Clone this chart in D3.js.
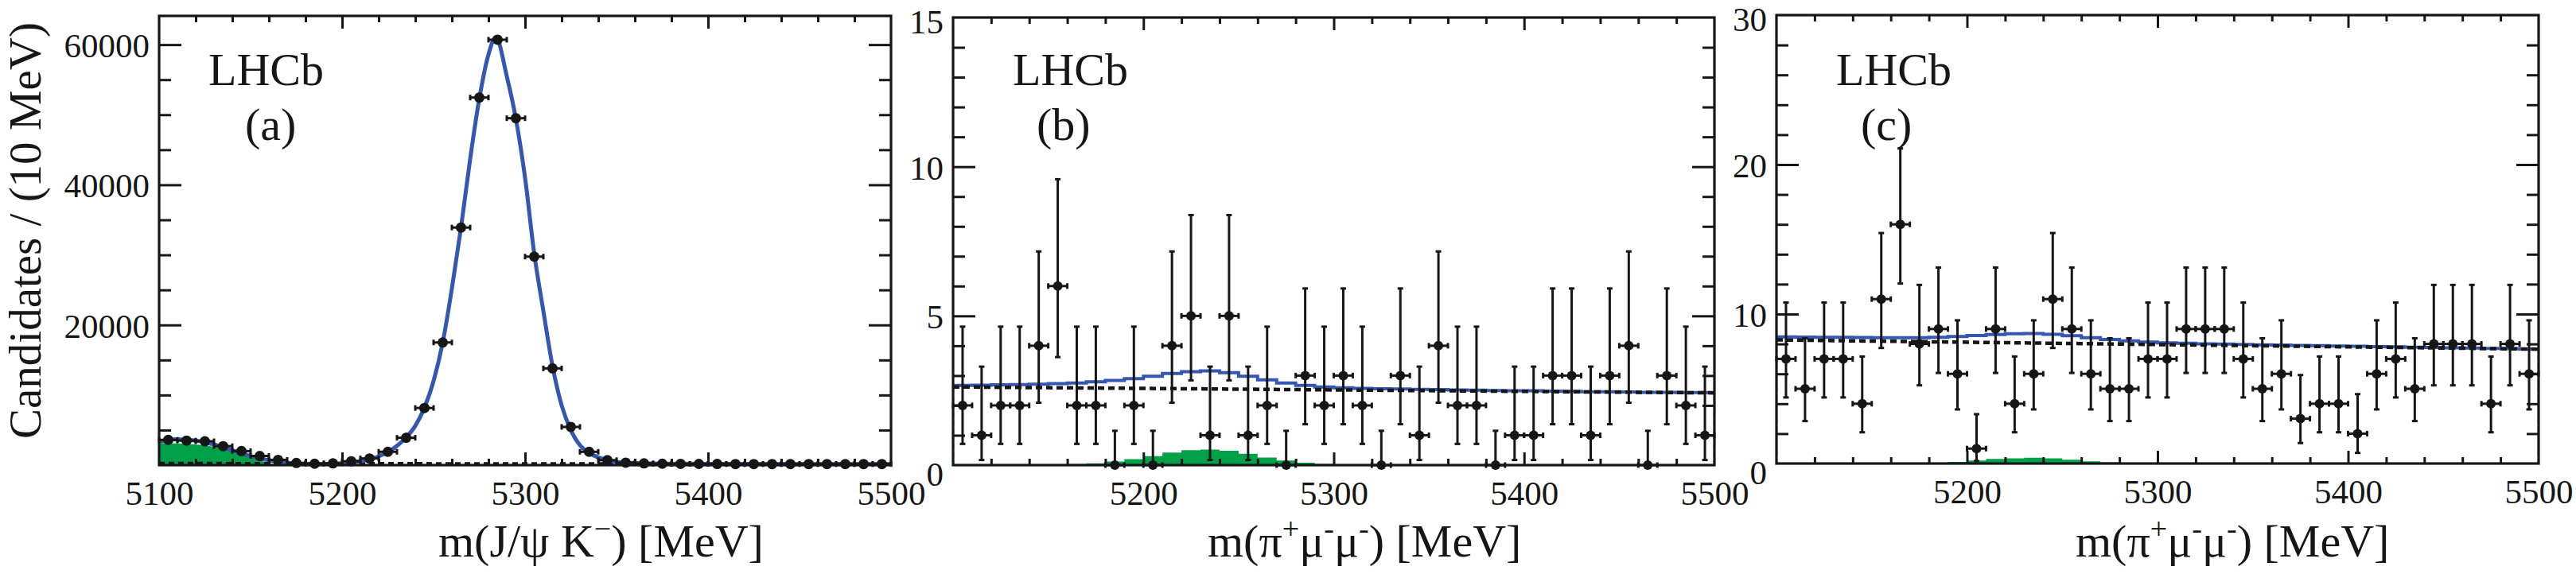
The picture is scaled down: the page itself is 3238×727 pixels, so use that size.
<!DOCTYPE html>
<html>
<head>
<meta charset="utf-8">
<script src="https://cdn.jsdelivr.net/npm/d3@7"></script>
<style>
  html, body { margin: 0; padding: 0; background: #fff; }
  svg { display: block; }
  text { font-family: "Liberation Serif", "Times New Roman", serif; }
</style>
</head>
<body>
<svg id="chart" width="3238" height="727"></svg>
<script>
// bin centres (10 MeV bins between 5100 and 5500)
const binCenters = [5105, 5115, 5125, 5135, 5145, 5155, 5165, 5175, 5185, 5195,
                    5205, 5215, 5225, 5235, 5245, 5255, 5265, 5275, 5285, 5295,
                    5305, 5315, 5325, 5335, 5345, 5355, 5365, 5375, 5385, 5395,
                    5405, 5415, 5425, 5435, 5445, 5455, 5465, 5475, 5485, 5495];

// (a) B- -> J/psi K- candidates
const countsA = [3600, 3500, 3400, 2700, 2000, 1300, 750, 300, 200, 250,
                 550, 950, 1900, 3900, 8150, 17500, 33900, 52450, 60700, 49500,
                 29750, 13800, 5450, 1900, 700, 350, 250, 200, 180, 170,
                 160, 150, 150, 150, 150, 150, 150, 150, 150, 150];
// total fit, read at these masses
const fitMassA = [5100, 5105, 5110, 5115, 5120, 5125, 5130, 5135, 5140, 5145, 5150, 5155, 5160,
                  5165, 5170, 5175, 5180, 5190, 5200, 5205, 5210, 5215, 5220, 5225, 5230, 5235,
                  5240, 5245, 5250, 5255, 5260, 5265, 5270, 5275, 5280, 5284, 5290, 5295, 5300,
                  5305, 5310, 5315, 5320, 5325, 5330, 5335, 5340, 5345, 5350, 5360, 5380, 5420, 5500];
const fitValA  = [3300, 3600, 3680, 3620, 3480, 3270, 2950, 2560, 2100, 1700, 1300, 950, 680,
                  480, 330, 240, 190, 180, 260, 380, 560, 820, 1250, 1850, 2750, 3950,
                  5600, 8200, 12000, 17500, 25200, 33900, 43700, 52300, 58600, 61070, 55500, 49400, 41000,
                  30200, 22000, 14150, 8520, 5010, 2840, 1750, 1090, 680, 450, 280, 200, 170, 140];
// partially reconstructed background (green)
const partMassA = [5100, 5110, 5120, 5130, 5140, 5145, 5150, 5155, 5160, 5163];
const partValA  = [3150, 3100, 2950, 2600, 2000, 1600, 1150, 700, 250, 0];
// combinatorial background (dotted), at 5100 and 5500
const combA = [250, 150];

// (b) and (c) B- -> pi+ mu- mu- candidates
const countsB = [2, 1, 2, 2, 4, 6, 2, 2, 0, 2,
                 0, 4, 5, 1, 5, 1, 2, 0, 3, 2,
                 3, 2, 0, 3, 1, 4, 2, 2, 0, 1,
                 1, 3, 3, 1, 3, 4, 0, 3, 2, 1];
const fitB   = [2.67, 2.68, 2.69, 2.70, 2.71, 2.73, 2.75, 2.79, 2.84, 2.90,
                2.98, 3.07, 3.13, 3.16, 3.10, 2.98, 2.86, 2.75, 2.67, 2.62,
                2.59, 2.57, 2.56, 2.55, 2.54, 2.53, 2.52, 2.51, 2.50, 2.49,
                2.49, 2.48, 2.47, 2.46, 2.46, 2.45, 2.44, 2.44, 2.43, 2.43];
const peakB  = [0, 0, 0, 0, 0.01, 0.02, 0.03, 0.06, 0.12, 0.20,
                0.30, 0.42, 0.50, 0.52, 0.48, 0.38, 0.25, 0.15, 0.08, 0.04,
                0.02, 0, 0, 0, 0, 0, 0, 0, 0, 0,
                0, 0, 0, 0, 0, 0, 0, 0, 0, 0];
const combB = [2.62, 2.42];

const countsC = [7, 5, 7, 7, 4, 11, 16, 8, 9, 6,
                 1, 9, 4, 6, 11, 9, 6, 5, 5, 7,
                 7, 9, 9, 9, 7, 5, 6, 3, 4, 4,
                 2, 6, 7, 5, 8, 8, 8, 4, 8, 6];
const fitC   = [8.47, 8.46, 8.45, 8.44, 8.43, 8.42, 8.42, 8.42, 8.45, 8.50,
                8.57, 8.63, 8.68, 8.70, 8.65, 8.55, 8.42, 8.30, 8.20, 8.12,
                8.07, 8.04, 8.01, 7.99, 7.96, 7.94, 7.92, 7.90, 7.88, 7.86,
                7.84, 7.82, 7.80, 7.78, 7.76, 7.74, 7.72, 7.70, 7.68, 7.66];
const peakC  = [0, 0, 0, 0, 0, 0, 0, 0, 0.05, 0.10,
                0.20, 0.30, 0.35, 0.38, 0.35, 0.25, 0.15, 0.08, 0.03, 0,
                0, 0, 0, 0, 0, 0, 0, 0, 0, 0,
                0, 0, 0, 0, 0, 0, 0, 0, 0, 0];
const combC = [8.27, 7.65];

// 68% Poisson intervals [low, high] for n = 0..16 events
const poissonLo = [0, 0.17, 0.71, 1.37, 2.09, 2.84, 3.62, 4.42, 5.23, 6.06, 6.89, 7.73, 8.59, 9.44, 10.30, 11.17, 12.04];
const poissonHi = [1.15, 3.30, 4.64, 5.92, 7.16, 8.38, 9.58, 10.77, 11.95, 13.11, 14.27, 15.42, 16.56, 17.70, 18.83, 19.96, 21.08];

// tick labels
const xTickLabelsA = [5100, 5200, 5300, 5400, 5500];
const xTickLabelsBC = [5200, 5300, 5400, 5500];
const yTicksA = [20000, 40000, 60000];
const yTicksB = [0, 5, 10, 15];
const yTicksC = [0, 10, 20, 30];

const FONT = "Liberation Serif, Times New Roman, serif";
const BLUE = "#3457b2";
const GREEN = "#00a048";
const INK = "#161616";

const svg = d3.select("#chart");
svg.append("rect").attr("width", 3238).attr("height", 727).attr("fill", "#fff");

const pionTitle = [["m(π"], ["+", 1], ["μ"], ["-", 1], ["μ"], ["-", 1], [") [MeV]"]];
const panels = [
  { id: "a", x0: 200, x1: 1120, yt: 20, yb: 585, ymax: 64100,
    yMajor: yTicksA, yMinorStep: 5000, xLabels: xTickLabelsA,
    counts: countsA, smooth: true, r: 6.5,
    titleX: 551, title: [["m(J/ψ K"], ["−", 1], [") [MeV]"]],
    lhcbDx: 62, tagDx: 108 },
  { id: "b", x0: 1198, x1: 2155, yt: 22, yb: 585, ymax: 15,
    yMajor: yTicksB, yMinorStep: 1, xLabels: xTickLabelsBC,
    counts: countsB, fit: fitB, peak: peakB, comb: combB, r: 6,
    titleX: 1518, title: pionTitle, lhcbDx: 75, tagDx: 105 },
  { id: "c", x0: 2233, x1: 3191, yt: 19, yb: 583, ymax: 30,
    yMajor: yTicksC, yMinorStep: 2, xLabels: xTickLabelsBC,
    counts: countsC, fit: fitC, peak: peakC, comb: combC, r: 6,
    titleX: 2609, title: pionTitle, lhcbDx: 75, tagDx: 106 }
];

panels.forEach(drawPanel);

// y axis title, only on the first panel
svg.append("text")
  .attr("transform", "translate(51, 28) rotate(-90)")
  .attr("text-anchor", "end")
  .attr("font-family", FONT)
  .attr("font-size", 57)
  .attr("fill", INK)
  .text("Candidates / (10 MeV)");

function drawPanel(p) {
  const x = d3.scaleLinear().domain([5100, 5500]).range([p.x0, p.x1]);
  const y = d3.scaleLinear().domain([0, p.ymax]).range([p.yb, p.yt]);
  const g = svg.append("g");
  const clipId = "clip-" + p.id;
  svg.append("clipPath").attr("id", clipId)
    .append("rect").attr("x", p.x0).attr("y", p.yt)
    .attr("width", p.x1 - p.x0).attr("height", p.yb - p.yt);
  const plot = g.append("g").attr("clip-path", `url(#${clipId})`);

  const edges = binCenters.map(c => c - 5).concat([5500]);

  if (p.smooth) {
    // green partially reconstructed component
    plot.append("path")
      .datum(partMassA.map((m, i) => [m, partValA[i]]))
      .attr("fill", GREEN)
      .attr("d", d3.area().x(d => x(d[0])).y0(y(0)).y1(d => y(d[1])).curve(d3.curveMonotoneX));
    // combinatorial
    plot.append("line")
      .attr("x1", x(5100)).attr("x2", x(5500))
      .attr("y1", y(combA[0])).attr("y2", y(combA[1]))
      .attr("stroke", INK).attr("stroke-width", 4).attr("stroke-dasharray", "7 5");
    // total fit
    plot.append("path")
      .datum(fitMassA.map((m, i) => [m, fitValA[i]]))
      .attr("fill", "none").attr("stroke", BLUE).attr("stroke-width", 5)
      .attr("d", d3.line().x(d => x(d[0])).y(d => y(d[1])).curve(d3.curveMonotoneX));
  } else {
    const stepArea = d3.area().x(d => x(d[0])).y0(y(0)).y1(d => y(d[1])).curve(d3.curveStepAfter);
    const stepLine = d3.line().x(d => x(d[0])).y(d => y(d[1])).curve(d3.curveStepAfter);
    const peakPts = edges.map((e, i) => [e, p.peak[Math.min(i, p.peak.length - 1)]]);
    plot.append("path").datum(peakPts).attr("fill", GREEN).attr("d", stepArea);

    const fitPts = edges.map((e, i) => [e, p.fit[Math.min(i, p.fit.length - 1)]]);
    plot.append("path").datum(fitPts)
      .attr("fill", "none").attr("stroke", BLUE).attr("stroke-width", 4)
      .attr("d", stepLine);
    // histogram ends drop to zero
    [[5100, p.fit[0]], [5500, p.fit[p.fit.length - 1]]].forEach(d => {
      plot.append("line")
        .attr("x1", x(d[0])).attr("x2", x(d[0]))
        .attr("y1", y(0)).attr("y2", y(d[1]))
        .attr("stroke", BLUE).attr("stroke-width", 2.5).attr("stroke-dasharray", "6 4");
    });
    plot.append("line")
      .attr("x1", x(5100)).attr("x2", x(5500))
      .attr("y1", y(p.comb[0])).attr("y2", y(p.comb[1]))
      .attr("stroke", INK).attr("stroke-width", 4.5).attr("stroke-dasharray", "8 5");
  }

  // data points with error bars
  const pts = g.append("g").attr("stroke", INK).attr("stroke-width", 3);
  p.counts.forEach((n, i) => {
    const cx = x(binCenters[i]);
    const cy = y(n);
    const xl = x(binCenters[i] - 5), xr = x(binCenters[i] + 5);
    pts.append("line").attr("x1", xl).attr("x2", xr).attr("y1", cy).attr("y2", cy);
    pts.append("line").attr("x1", xl).attr("x2", xl).attr("y1", cy - 3.5).attr("y2", cy + 3.5);
    pts.append("line").attr("x1", xr).attr("x2", xr).attr("y1", cy - 3.5).attr("y2", cy + 3.5);
    if (!p.smooth) {
      const lo = y(poissonLo[n]), hi = y(poissonHi[n]);
      pts.append("line").attr("x1", cx).attr("x2", cx).attr("y1", lo).attr("y2", hi);
      pts.append("line").attr("x1", cx - 3.5).attr("x2", cx + 3.5).attr("y1", hi).attr("y2", hi);
      if (n > 0) pts.append("line").attr("x1", cx - 3.5).attr("x2", cx + 3.5).attr("y1", lo).attr("y2", lo);
    }
    pts.append("circle").attr("cx", cx).attr("cy", cy).attr("r", p.r)
      .attr("fill", INK).attr("stroke", "none");
  });

  // ticks on all four sides
  const xMinor = d3.range(5120, 5500, 20).filter(v => v % 100 !== 0);
  const xMajor = [5200, 5300, 5400];
  const yMinor = d3.range(p.yMinorStep, p.ymax, p.yMinorStep).filter(v => !p.yMajor.includes(v));
  const yMaj = p.yMajor.filter(v => v > 0 && v < p.ymax);

  const addAxis = (axis, tx, ty) => {
    const a = g.append("g").attr("transform", `translate(${tx},${ty})`).call(axis);
    a.select(".domain").remove();
    a.attr("font-family", FONT).attr("font-size", 43);
    a.selectAll("line").attr("stroke", INK).attr("stroke-width", 3);
    a.selectAll("text").attr("fill", INK);
    return a;
  };
  addAxis(d3.axisBottom(x).tickValues(xMinor).tickSize(-8).tickFormat(""), 0, p.yb);
  addAxis(d3.axisBottom(x).tickValues(xMajor).tickSize(-16).tickFormat(""), 0, p.yb);
  addAxis(d3.axisTop(x).tickValues(xMinor).tickSize(-8).tickFormat(""), 0, p.yt);
  addAxis(d3.axisTop(x).tickValues(xMajor).tickSize(-16).tickFormat(""), 0, p.yt);
  addAxis(d3.axisLeft(y).tickValues(yMinor).tickSize(-15).tickFormat(""), p.x0, 0);
  addAxis(d3.axisLeft(y).tickValues(yMaj).tickSize(-28).tickFormat(""), p.x0, 0);
  addAxis(d3.axisRight(y).tickValues(yMinor).tickSize(-15).tickFormat(""), p.x1, 0);
  addAxis(d3.axisRight(y).tickValues(yMaj).tickSize(-28).tickFormat(""), p.x1, 0);

  // tick labels
  addAxis(d3.axisBottom(x).tickValues(p.xLabels).tickSize(0).tickPadding(19).tickFormat(d3.format("d")), 0, p.yb);
  const yl = addAxis(d3.axisLeft(y).tickValues(p.yMajor).tickSize(0).tickPadding(12).tickFormat(d3.format("d")), p.x0, 0);
  yl.selectAll("text").attr("dy", d => d === 0 ? "0.6em" : d === p.ymax ? "0.45em" : "0.36em");

  // frame
  g.append("rect").attr("x", p.x0).attr("y", p.yt)
    .attr("width", p.x1 - p.x0).attr("height", p.yb - p.yt)
    .attr("fill", "none").attr("stroke", INK).attr("stroke-width", 3.2);

  // labels inside the frame
  g.append("text").attr("x", p.x0 + p.lhcbDx).attr("y", 107)
    .attr("font-family", FONT).attr("font-size", 58).attr("fill", INK).text("LHCb");
  g.append("text").attr("x", p.x0 + p.tagDx).attr("y", 176)
    .attr("font-family", FONT).attr("font-size", 58).attr("fill", INK).text(`(${p.id})`);

  // axis title with superscripts
  const t = g.append("text").attr("x", p.titleX).attr("y", 700)
    .attr("font-family", FONT).attr("font-size", 58).attr("fill", INK);
  let raised = false;
  p.title.forEach(part => {
    const sp = t.append("tspan").text(part[0]);
    if (part[1]) {
      sp.attr("font-size", 38);
      if (!raised) { sp.attr("dy", -22); raised = true; }
    } else if (raised) {
      sp.attr("dy", 22); raised = false;
    }
  });
}
</script>
</body>
</html>
